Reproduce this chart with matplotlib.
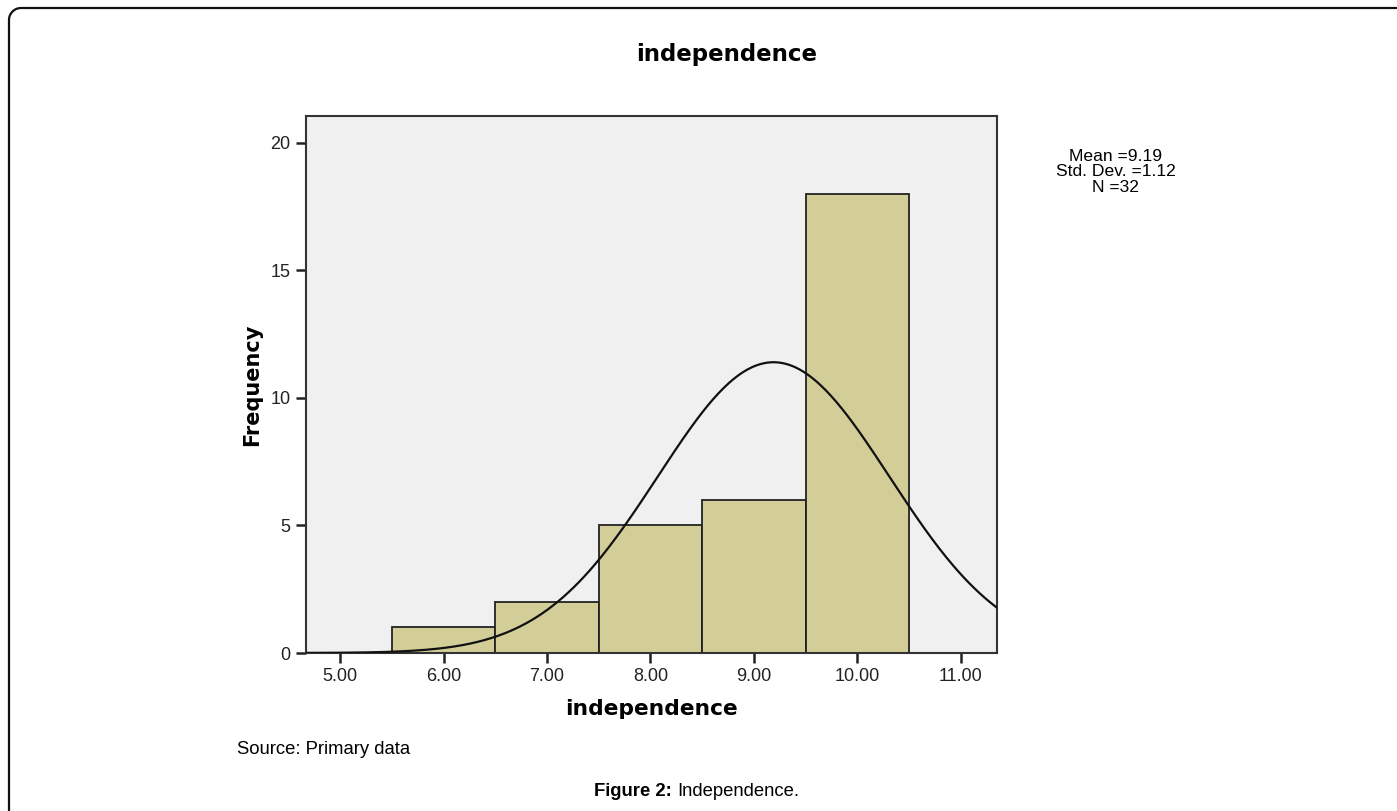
import matplotlib.pyplot as plt
import numpy as np

# histogram data
bin_edges = [5.5, 6.5, 7.5, 8.5, 9.5, 10.5]
counts = [1, 2, 5, 6, 18]
x_ticks = [5, 6, 7, 8, 9, 10, 11]
y_ticks = [0, 5, 10, 15, 20]

mean = 9.19
std = 1.12
n = 32

plt.rcParams["font.family"] = ["Liberation Sans", "DejaVu Sans"]

fig = plt.figure(figsize=(13.97, 8.11), dpi=100)
W, H = 1397, 811

# axes box in pixels: left 306, right 997, top 116, bottom 653
ax = fig.add_axes([306 / W, 1 - 653 / H, (997 - 306) / W, (653 - 116) / H])
ax.set_facecolor("#f0f0f0")

widths = np.diff(bin_edges)
ax.bar(bin_edges[:-1], counts, width=widths, align="edge",
       color="#d3ce98", edgecolor="#222222", linewidth=1.3, zorder=2)

# normal curve scaled to counts
xs = np.linspace(4.6, 11.4, 400)
binw = widths[0]
ys = n * binw / (std * np.sqrt(2 * np.pi)) * np.exp(-0.5 * ((xs - mean) / std) ** 2)
ax.plot(xs, ys, color="#111111", linewidth=1.6, zorder=3)

ax.set_xlim(4.67, 11.35)
ax.set_ylim(0, 21.05)
ax.set_xticks(x_ticks)
ax.set_xticklabels([f"{v:.2f}" for v in x_ticks])
ax.set_yticks(y_ticks)
ax.set_yticklabels([str(v) for v in y_ticks])
ax.tick_params(direction="out", length=7, width=1.8, labelsize=13,
               colors="#222222", pad=4)

for s in ax.spines.values():
    s.set_linewidth(1.5)
    s.set_color("#333333")

ax.set_xlabel("independence", fontsize=15.7, fontweight="bold",
              family="DejaVu Sans", labelpad=10)
ax.set_ylabel("Frequency", fontsize=15, fontweight="bold",
              family="DejaVu Sans", labelpad=6)

fig.text(727 / W, 1 - 55 / H, "independence", ha="center", va="center",
         fontsize=16.5, fontweight="bold", family="DejaVu Sans")

fig.text(1116 / W, 1 - 172 / H,
         f"Mean ={mean}\nStd. Dev. ={std}\nN ={n}",
         ha="center", va="center", fontsize=12.6, linespacing=1.02)

fig.text(237 / W, 1 - 750 / H, "Source: Primary data", ha="left",
         va="center", fontsize=13.3)

fig.text(677 / W, 1 - 791 / H, "Figure 2: ", ha="right", va="center",
         fontsize=13.3, fontweight="bold")
fig.text(677 / W, 1 - 791 / H, "Independence.", ha="left", va="center",
         fontsize=13.3)

# open frame: left edge and top edge with a rounded corner
r = 12
t = np.linspace(np.pi, np.pi / 2, 20)
arc_x = 9 + r + r * np.cos(t)
arc_y = 8 + r - r * np.sin(t)
fx = np.concatenate([[9], arc_x, [W]])
fy = np.concatenate([[H], arc_y, [8]])
fig.add_artist(plt.Line2D(fx / W, 1 - fy / H, transform=fig.transFigure,
                          color="#111111", linewidth=1.6))

fig.savefig("out.png", dpi=100)
